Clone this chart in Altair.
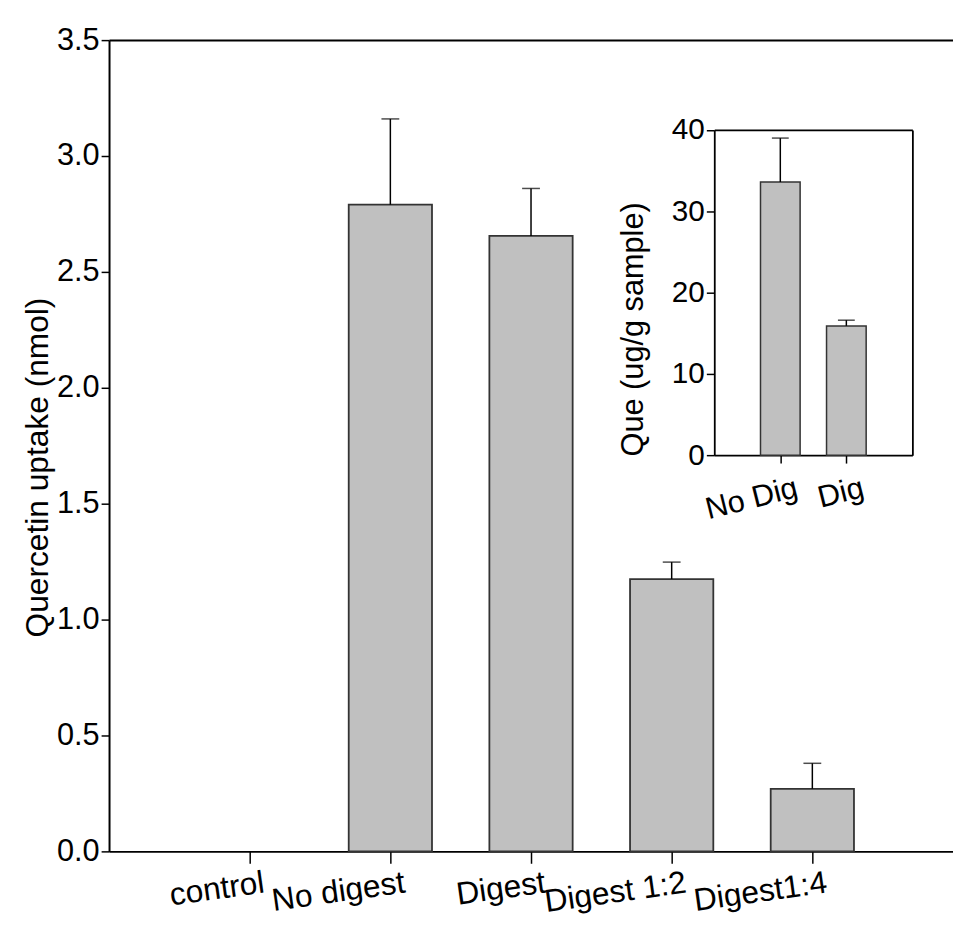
import json
import altair as alt
import pandas as pd

# ---------------- data ----------------
categories = ["control", "No digest", "Digest", "Digest 1:2", "Digest1:4"]
uptake = [0.0, 2.79, 2.655, 1.175, 0.27]
uptake_err = [0.0, 0.37, 0.205, 0.073, 0.11]
y_ticks = [0.0, 0.5, 1.0, 1.5, 2.0, 2.5, 3.0, 3.5]

inset_categories = ["No Dig", "Dig"]
que = [33.6, 15.9]
que_err = [5.4, 0.7]
inset_y_ticks = [0, 10, 20, 30, 40]

main_df = pd.DataFrame({
    "pos": list(range(1, len(categories) + 1)),
    "cat": categories,
    "value": uptake,
    "err": uptake_err,
})
inset_df = pd.DataFrame({
    "pos": list(range(1, len(inset_categories) + 1)),
    "cat": inset_categories,
    "value": que,
    "err": que_err,
})

FONT = "Liberation Sans"
W, H = 852, 819
BAR_FILL = "#c0c0c0"
BAR_STROKE = "#333333"


def main_x():
    return alt.Scale(domain=[0, 6], nice=False, zero=False)


def main_y():
    return alt.Scale(domain=[0, 3.5], nice=False)


def inset_x():
    return alt.Scale(domain=[0, 3], nice=False, zero=False, range=[611, 811])


def inset_y():
    return alt.Scale(domain=[0, 40], nice=False, range=[419, 90.7])


main_label_expr = f"{json.dumps(categories)}[datum.value - 1]"
inset_label_expr = f"{json.dumps(inset_categories)}[datum.value - 1]"

# ---------------- main bars ----------------
bars = alt.Chart(main_df).transform_filter("datum.value > 0").transform_calculate(
    lo="datum.pos - 0.296", hi="datum.pos + 0.296", zero="0"
).mark_bar(color=BAR_FILL, stroke=BAR_STROKE, strokeWidth=1.8).encode(
    x=alt.X("lo:Q", scale=main_x(), axis=alt.Axis(
        orient="bottom", values=[1, 2, 3, 4, 5], labelExpr=main_label_expr,
        tickSize=12, tickWidth=1.5, domainWidth=2,
        labelAngle=352, labelAlign="right", labelBaseline="top",
        labelPadding=4, labelOffset=12, labelFontSize=32, labelLimit=1000,
        labelOverlap=False, labelBound=False, labelFlush=False,
        title=None, grid=False)),
    x2="hi:Q",
    y=alt.Y("value:Q", scale=main_y(), axis=alt.Axis(
        orient="left", values=y_ticks, format=".1f",
        tickSize=8, tickWidth=1.5, domainWidth=2,
        labelPadding=2, labelFontSize=31, grid=False,
        title="Quercetin uptake (nmol)", titleFontSize=32, titleLimit=2000,
        titleFontWeight="normal", titleAngle=270, titleAlign="center",
        titleBaseline="alphabetic", titleX=-62, titleY=431)),
    y2="zero:Q",
)

# ---------------- main error bars ----------------
main_err_base = alt.Chart(main_df).transform_filter("datum.err > 0").transform_calculate(
    top="datum.value + datum.err"
)
main_rule = main_err_base.mark_rule(color="black", strokeWidth=1.5).encode(
    x=alt.X("pos:Q", scale=main_x(), axis=alt.Axis(
        orient="top", ticks=False, labels=False, domain=True,
        domainWidth=2, title=None, grid=False)),
    y=alt.Y("value:Q", scale=main_y(), axis=None),
    y2="top:Q",
)
main_cap = main_err_base.mark_tick(orient="horizontal", size=18, thickness=1.5,
                                   color="black").encode(
    x=alt.X("pos:Q", scale=main_x()),
    y=alt.Y("top:Q", scale=main_y()),
)
main_err = alt.layer(main_rule, main_cap)

# ---------------- inset bars ----------------
inset_bars = alt.Chart(inset_df).transform_calculate(
    lo="datum.pos - 0.3", hi="datum.pos + 0.3", zero="0"
).mark_bar(color=BAR_FILL, stroke=BAR_STROKE, strokeWidth=1.5).encode(
    x=alt.X("lo:Q", scale=inset_x(), axis=alt.Axis(
        orient="bottom", offset=-400, values=[1, 2], labelExpr=inset_label_expr,
        tickSize=8, tickWidth=1.5, domainWidth=1.8,
        labelAngle=346, labelAlign="right", labelBaseline="top",
        labelPadding=10, labelOffset=13, labelFontSize=31, labelLimit=1000,
        labelOverlap=False, labelBound=False, labelFlush=False,
        title=None, grid=False)),
    x2="hi:Q",
    y=alt.Y("value:Q", scale=inset_y(), axis=alt.Axis(
        orient="left", offset=-611, values=inset_y_ticks, format="d",
        tickSize=8, tickWidth=1.5, domainWidth=1.8,
        labelPadding=2, labelFontSize=30, grid=False,
        title="Que (ug/g sample)", titleFontSize=31, titleLimit=2000,
        titleFontWeight="normal", titleAngle=270, titleAlign="center",
        titleBaseline="alphabetic", titleX=-72, titleY=291.5)),
    y2="zero:Q",
)

# ---------------- inset error bars + frame ----------------
inset_err_base = alt.Chart(inset_df).transform_filter("datum.err > 0").transform_calculate(
    top="datum.value + datum.err"
)
inset_rule = inset_err_base.mark_rule(color="black", strokeWidth=1.5).encode(
    x=alt.X("pos:Q", scale=inset_x(), axis=alt.Axis(
        orient="top", offset=-90.7, ticks=False, labels=False, domain=True,
        domainWidth=1.8, title=None, grid=False)),
    y=alt.Y("value:Q", scale=inset_y(), axis=alt.Axis(
        orient="right", offset=-41, ticks=False, labels=False, domain=True,
        domainWidth=1.8, title=None, grid=False)),
    y2="top:Q",
)
inset_cap = inset_err_base.mark_tick(orient="horizontal", size=17, thickness=1.5,
                                     color="black").encode(
    x=alt.X("pos:Q", scale=inset_x()),
    y=alt.Y("top:Q", scale=inset_y()),
)
inset_err = alt.layer(inset_rule, inset_cap)

chart = alt.layer(bars, main_err, inset_bars, inset_err).resolve_scale(
    x="independent", y="independent"
).resolve_axis(
    x="independent", y="independent"
).properties(
    width=W, height=H,
    autosize=alt.AutoSizeParams(type="none"),
    padding={"left": 102, "top": 28, "right": 0, "bottom": 80},
    background="white",
).configure_view(
    stroke=None
).configure_axis(
    domainColor="black", tickColor="black", labelColor="black", titleColor="black",
    labelFont=FONT, titleFont=FONT,
)

chart.save("out.html", embed_options={"renderer": "svg", "actions": False})
